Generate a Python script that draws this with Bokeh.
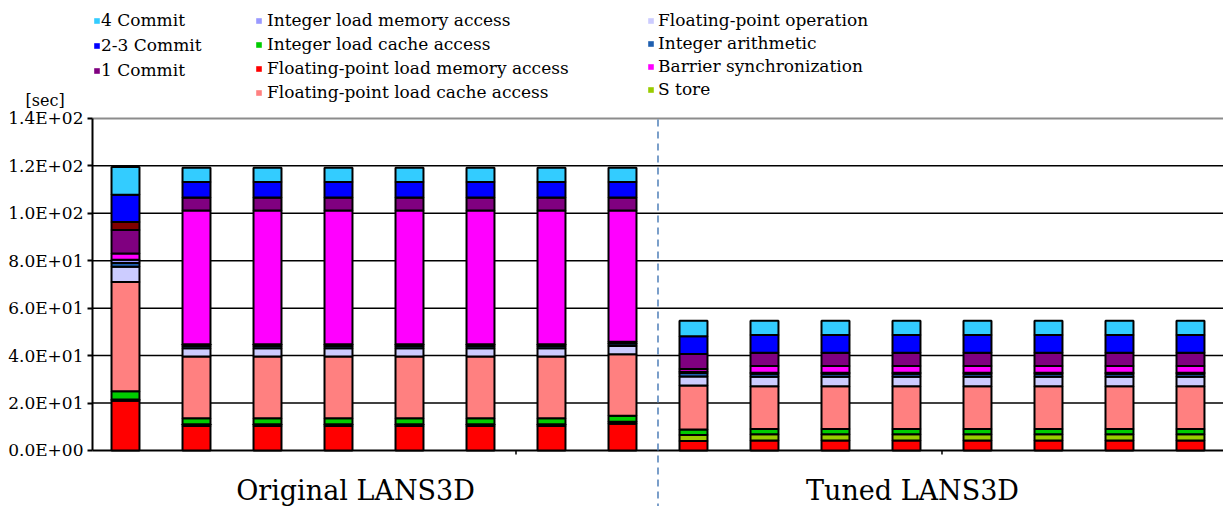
from bokeh.plotting import figure
from bokeh.models import (Range1d, FixedTicker, Legend, LegendItem, Label, Arrow,
                          ColumnDataSource)
from bokeh.embed import file_html
from bokeh.resources import INLINE

# ---------------- data ----------------
bars = list(range(16))
group_names = ["Original LANS3D", "Tuned LANS3D"]

fp_load_mem   = [21.0] + [10.3] * 6 + [11.3] + [4.0] + [4.2] * 7
store         = [0.5] + [0.8] * 7 + [2.5] + [2.6] * 7
int_load_cache = [3.5] + [2.5] * 7 + [2.4] + [2.3] * 7
fp_load_cache = [46.0] + [26.0] * 7 + [18.5] + [18.0] * 7
fp_op         = [6.5] + [3.5] * 7 + [3.8] + [4.0] * 7
int_arith     = [1.5] + [1.0] * 7 + [1.5] + [1.3] * 7
int_load_mem  = [1.4] + [0.7] * 7 + [0.5] + [0.4] * 7
barrier       = [2.6] + [56.4] * 6 + [55.4] + [1.2] + [2.8] * 7
commit1       = [10.0] + [5.5] * 7 + [6.3] + [5.6] * 7
other         = [3.3] + [0.0] * 15
commit23      = [11.5] + [6.5] * 7 + [7.5] + [7.5] * 7
commit4       = [11.7] + [6.0] * 7 + [6.5] + [6.0] * 7

series_keys = ["fp_load_mem", "store", "int_load_cache", "fp_load_cache", "fp_op",
               "int_arith", "int_load_mem", "barrier", "commit1", "other",
               "commit23", "commit4"]
series_vals = [fp_load_mem, store, int_load_cache, fp_load_cache, fp_op,
               int_arith, int_load_mem, barrier, commit1, other, commit23, commit4]
series_colors = ["#FF0000", "#99CC00", "#00CC00", "#FF8080", "#CCCCFF",
                 "#1F5FAF", "#9999FF", "#FF00FF", "#800080", "#800000",
                 "#0000FF", "#33CCFF"]
series_names = {
    "fp_load_mem": "Floating-point load memory access",
    "store": "S tore",
    "int_load_cache": "Integer load cache access",
    "fp_load_cache": "Floating-point load cache access",
    "fp_op": "Floating-point operation",
    "int_arith": "Integer arithmetic",
    "int_load_mem": "Integer load memory access",
    "barrier": "Barrier synchronization",
    "commit1": "1 Commit",
    "commit23": "2-3 Commit",
    "commit4": "4 Commit",
}

y_ticks = [0, 20, 40, 60, 80, 100, 120, 140]
y_tick_labels = ["0.0E+00", "2.0E+01", "4.0E+01", "6.0E+01", "8.0E+01",
                 "1.0E+02", "1.2E+02", "1.4E+02"]
x_ticks = [5.5, 11.5]
divider_x = 7.5

legend_cols = [
    ["commit4", "commit23", "commit1"],
    ["int_load_mem", "int_load_cache", "fp_load_mem", "fp_load_cache"],
    ["fp_op", "int_arith", "barrier", "store"],
]

# ---------------- figure ----------------
FONT = "DejaVu Serif"
X0, X1 = -1.7606, 15.465      # whole canvas width
Y0, Y1 = -23.61, 189.71       # whole canvas height
AXIS_X = -0.4648              # where the value axis sits
PX_Y = (Y1 - Y0) / 506.0      # data units per pixel (vertical)

p = figure(width=1223, height=506, output_backend="svg", toolbar_location=None,
           x_range=Range1d(X0, X1), y_range=Range1d(Y0, Y1),
           min_border_left=0, min_border_right=0, min_border_top=0,
           min_border_bottom=0)
p.outline_line_color = None
p.background_fill_color = "white"
p.xgrid.visible = False
p.ygrid.visible = False
p.xaxis.visible = False

# horizontal grid lines (from the tick list), restricted to the plot area
grid_colors = ["black"] * (len(y_ticks) - 1) + ["#8c8c8c"]
grid_widths = [2] + [1.5] * (len(y_ticks) - 2) + [2]
p.segment(x0=[AXIS_X] * len(y_ticks), x1=[X1] * len(y_ticks), y0=y_ticks, y1=y_ticks,
          line_color=grid_colors, line_width=grid_widths)
# small category-axis ticks below the baseline
p.segment(x0=x_ticks, x1=x_ticks, y0=[0] * len(x_ticks), y1=[-4 * PX_Y] * len(x_ticks),
          line_color="black", line_width=1.5)

data = {"x": bars}
for k, v in zip(series_keys, series_vals):
    data[k] = v
source = ColumnDataSource(data)

p.vbar_stack(series_keys, x="x", width=0.394, color=series_colors,
             line_color="black", line_width=2, source=source)

# value axis
p.yaxis.fixed_location = AXIS_X
p.yaxis.bounds = (0, 140)
p.yaxis.ticker = FixedTicker(ticks=y_ticks)
p.yaxis.major_label_overrides = {t: l for t, l in zip(y_ticks, y_tick_labels)}
p.yaxis.major_label_text_font = FONT
p.yaxis.major_label_text_font_size = "17px"
p.yaxis.major_label_text_color = "black"
p.yaxis.axis_line_width = 2
p.yaxis.axis_line_color = "black"
p.yaxis.major_tick_out = 5
p.yaxis.major_tick_in = 0
p.yaxis.major_tick_line_width = 2
p.yaxis.minor_tick_line_color = None
p.yaxis.major_label_standoff = 4

# divider between groups
p.add_layout(Arrow(end=None, x_start=divider_x, y_start=139.5, x_end=divider_x, y_end=Y0,
                   line_color="#4F7FB8", line_width=1.5, line_dash="7 5"))

# group labels and unit label (screen units from the canvas bottom-left)
for name, sx in zip(group_names, [355, 912]):
    p.add_layout(Label(x=sx, y=16, x_units="screen", y_units="screen", text=name,
                       text_align="center", text_baseline="middle",
                       text_font=FONT, text_font_size="27px", text_color="black"))
p.add_layout(Label(x=25, y=406, x_units="screen", y_units="screen", text="[sec]",
                   text_align="left", text_baseline="middle", text_font=FONT,
                   text_font_size="16px", text_color="black"))

# legends (three columns); helper renderers carry only the legend swatch style
color_of = dict(zip(series_keys, series_colors))
swatch = {}
for k in series_names:
    swatch[k] = p.vbar(x=[bars[0]], top=[0], bottom=[0], width=0,
                       fill_color=color_of[k], line_color=None)

leg_locs = [(93, 426), (255, 404), (647, 407)]
leg_spacing = [5, 4, 3]
leg_standoff = [1, 5, 4]
for cols, loc, sp, so in zip(legend_cols, leg_locs, leg_spacing, leg_standoff):
    items = [LegendItem(label=series_names[k], renderers=[swatch[k]]) for k in cols]
    lg = Legend(items=items, location=loc, orientation="vertical",
                glyph_width=7, glyph_height=7, label_height=20, spacing=sp,
                padding=0, margin=0, label_standoff=so,
                label_text_font=FONT, label_text_font_size="17px",
                label_text_color="black",
                border_line_color=None, background_fill_alpha=0)
    p.add_layout(lg)

open("out.html", "w").write(file_html(p, INLINE))
